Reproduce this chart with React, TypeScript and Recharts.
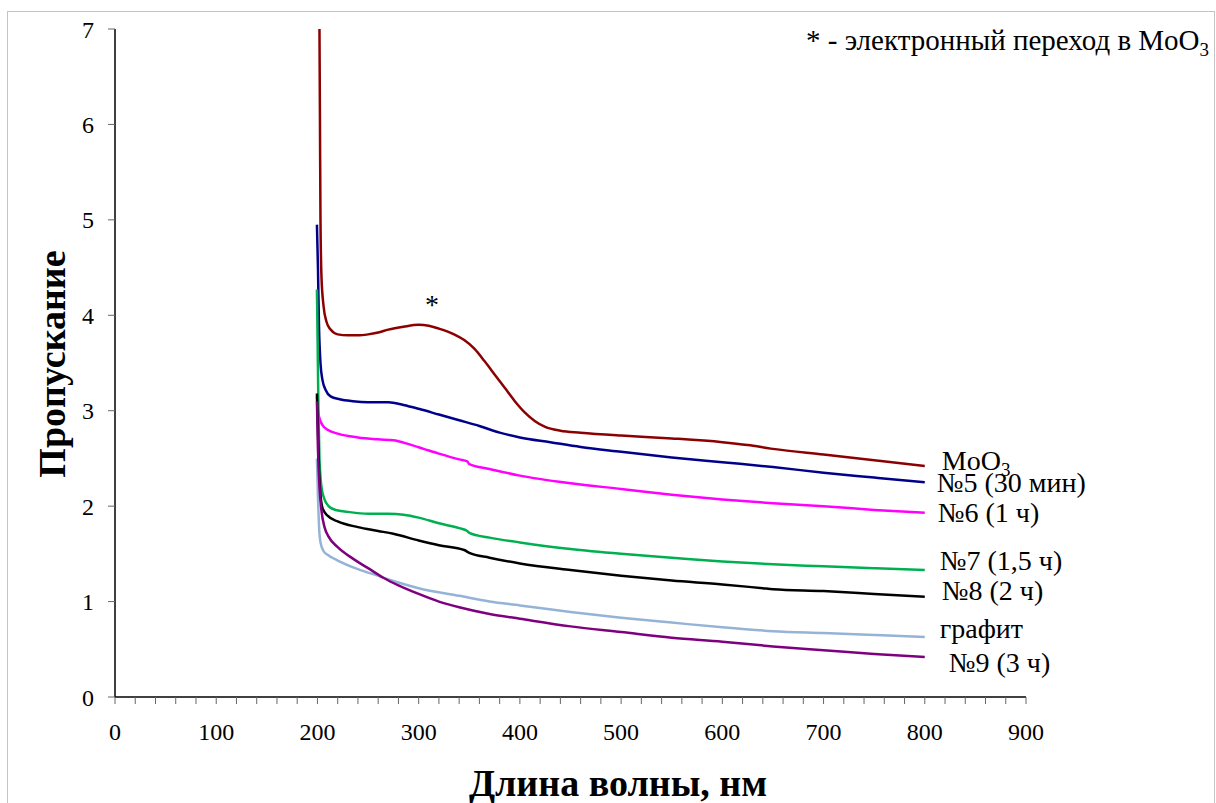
import { LineChart, Line, XAxis, YAxis } from "recharts";

// wavelength (nm) / transmission pairs
const moo3 = [
  [202, 7.0], [202.5, 6.0], [203, 5.0], [204, 4.4], [206, 4.1], [209, 3.93], [213, 3.85],
  [220, 3.8], [230, 3.79], [240, 3.79], [250, 3.8], [260, 3.82], [270, 3.85], [285, 3.88],
  [300, 3.9], [310, 3.89], [320, 3.86], [335, 3.8], [345, 3.74], [355, 3.65], [365, 3.52],
  [375, 3.38], [385, 3.24], [395, 3.1], [405, 2.98], [415, 2.89], [425, 2.83], [440, 2.79],
  [460, 2.77], [500, 2.74], [550, 2.71], [600, 2.67], [625, 2.64], [650, 2.6], [700, 2.54],
  [750, 2.48], [800, 2.42],
];
const s5 = [
  [199.5, 4.95], [200.5, 4.5], [201.5, 3.9], [203, 3.5], [205, 3.32], [208, 3.22], [213, 3.15],
  [222, 3.12], [235, 3.1], [250, 3.09], [270, 3.09], [285, 3.06], [300, 3.02], [320, 2.96],
  [340, 2.9], [360, 2.84], [380, 2.77], [400, 2.72], [430, 2.67], [460, 2.62], [500, 2.57],
  [550, 2.51], [600, 2.46], [650, 2.41], [700, 2.35], [750, 2.3], [800, 2.25],
];
const s6 = [
  [199.5, 3.15], [200.5, 3.0], [202, 2.92], [205, 2.85], [210, 2.8], [220, 2.76], [240, 2.72],
  [260, 2.7], [275, 2.69], [290, 2.65], [305, 2.6], [320, 2.55], [340, 2.49], [348, 2.47],
  [350, 2.44], [370, 2.39], [400, 2.32], [450, 2.24], [500, 2.18], [550, 2.12], [600, 2.07],
  [650, 2.03], [700, 2.0], [750, 1.96], [800, 1.93],
];
const s7 = [
  [199.5, 4.27], [200.2, 3.7], [201, 3.0], [202, 2.5], [204, 2.2], [207, 2.07], [211, 2.0],
  [218, 1.96], [230, 1.94], [250, 1.92], [270, 1.92], [285, 1.91], [300, 1.88], [320, 1.82],
  [340, 1.77], [348, 1.74], [350, 1.72], [370, 1.67], [400, 1.62], [450, 1.55], [500, 1.5],
  [550, 1.46], [600, 1.42], [650, 1.39], [700, 1.37], [750, 1.35], [800, 1.33],
];
const s8 = [
  [199.5, 3.18], [200.5, 2.8], [201.5, 2.4], [203, 2.12], [205, 1.98], [210, 1.9], [220, 1.84],
  [240, 1.78], [260, 1.74], [275, 1.71], [300, 1.64], [320, 1.59], [345, 1.54], [350, 1.51],
  [370, 1.46], [400, 1.4], [450, 1.33], [500, 1.27], [550, 1.22], [600, 1.18], [640, 1.14],
  [650, 1.13], [700, 1.11], [750, 1.08], [800, 1.05],
];
const graphite = [
  [199.5, 2.5], [200.5, 2.1], [201.5, 1.8], [203, 1.62], [206, 1.53], [210, 1.49], [220, 1.43],
  [240, 1.34], [260, 1.27], [280, 1.2], [300, 1.14], [340, 1.06], [370, 1.0], [400, 0.96],
  [450, 0.89], [500, 0.83], [550, 0.78], [600, 0.73], [650, 0.69], [700, 0.67], [750, 0.65],
  [800, 0.63],
];
const s9 = [
  [199.5, 3.1], [200.5, 2.6], [202, 2.2], [204, 1.95], [207, 1.78], [211, 1.68], [220, 1.57],
  [235, 1.45], [250, 1.35], [265, 1.25], [280, 1.17], [300, 1.08], [320, 1.0], [340, 0.94],
  [370, 0.87], [400, 0.82], [450, 0.74], [500, 0.68], [550, 0.62], [600, 0.58], [650, 0.53],
  [700, 0.49], [750, 0.45], [800, 0.42],
];

const yTicks = [0, 1, 2, 3, 4, 5, 6, 7];
const xMajor = [0, 100, 200, 300, 400, 500, 600, 700, 800, 900];
const xTicks = xMajor.flatMap((v) => (v < 900 ? [v, v + 20, v + 40, v + 60, v + 80] : [v]));

const FONT = '"Liberation Serif", "Times New Roman", serif';

const series = [
  { key: "moo3", name: "MoO", sub: "3", data: moo3, color: "#8B0000", dx: 17, dy: 4 },
  { key: "s5", name: "№5 (30 мин)", data: s5, color: "#00008B", dx: 12, dy: 10 },
  { key: "s6", name: "№6 (1 ч)", data: s6, color: "#FF00FF", dx: 13, dy: 9 },
  { key: "s7", name: "№7 (1,5 ч)", data: s7, color: "#00B050", dx: 15, dy: 0 },
  { key: "s8", name: "№8 (2 ч)", data: s8, color: "#000000", dx: 17, dy: 3 },
  { key: "graphite", name: "графит", data: graphite, color: "#95B3D7", dx: 15, dy: 1 },
  { key: "s9", name: "№9 (3 ч)", data: s9, color: "#7F007F", dx: 24, dy: 15 },
];

const endLabel = (s: (typeof series)[number]) => (props: any) => {
  if (props.index !== s.data.length - 1) return null;
  return (
    <text
      x={props.x + s.dx}
      y={props.y + s.dy}
      fontFamily={FONT}
      fontSize={28}
      fill="#000"
    >
      {s.name}
      {s.sub && (
        <tspan fontSize={19} dy={6}>
          {s.sub}
        </tspan>
      )}
    </text>
  );
};

export default function App() {
  return (
    <div
      style={{
        position: "absolute",
        left: 0,
        top: 0,
        width: 1216,
        height: 803,
        background: "#fff",
        fontFamily: FONT,
        overflow: "hidden",
      }}
    >
      <div
        style={{
          position: "absolute",
          left: 7,
          top: 11,
          width: 1206,
          height: 820,
          border: "1px solid #c4c4c4",
        }}
      />
      <LineChart width={1216} height={803} margin={{ top: 29, right: 190, bottom: 0, left: 0 }}>
        <XAxis
          type="number"
          dataKey="x"
          domain={[0, 900]}
          ticks={xTicks}
          interval={0}
          tickFormatter={(v: number) => (v % 100 === 0 ? String(v) : "")}
          height={106}
          tickSize={7}
          tickMargin={19}
          axisLine={{ stroke: "#000", strokeWidth: 1.5 }}
          tickLine={{ stroke: "#666" }}
          tick={{ fill: "#000", fontSize: 24, fontFamily: FONT }}
          allowDataOverflow
        />
        <YAxis
          type="number"
          domain={[0, 7]}
          ticks={yTicks}
          interval={0}
          width={115}
          tickSize={7}
          tickMargin={14}
          axisLine={{ stroke: "#000", strokeWidth: 1.5 }}
          tickLine={{ stroke: "#666" }}
          tick={{ fill: "#000", fontSize: 24, fontFamily: FONT }}
          allowDataOverflow
        />
        {series.map((s) => (
          <Line
            key={s.key}
            data={s.data.map(([x, y]) => ({ x, y }))}
            dataKey="y"
            type="monotone"
            stroke={s.color}
            strokeWidth={2.5}
            dot={false}
            isAnimationActive={false}
            label={endLabel(s)}
          />
        ))}
      </LineChart>
      <div
        style={{
          position: "absolute",
          left: 432,
          top: 305,
          transform: "translate(-50%, -50%)",
          fontSize: 28,
        }}
      >
        *
      </div>
      <div
        style={{
          position: "absolute",
          left: 806,
          top: 26,
          fontSize: 29,
          lineHeight: "1",
          whiteSpace: "nowrap",
        }}
      >
        * - электронный переход в MoO
        <span style={{ fontSize: 19, position: "relative", top: 6 }}>3</span>
      </div>
      <div
        style={{
          position: "absolute",
          left: 52,
          top: 364,
          transform: "translate(-50%, -50%) rotate(-90deg)",
          fontSize: 38,
          fontWeight: "bold",
          whiteSpace: "nowrap",
        }}
      >
        Пропускание
      </div>
      <div
        style={{
          position: "absolute",
          left: 618,
          top: 783,
          transform: "translate(-50%, -50%)",
          fontSize: 38,
          fontWeight: "bold",
          whiteSpace: "nowrap",
        }}
      >
        Длина волны, нм
      </div>
    </div>
  );
}
